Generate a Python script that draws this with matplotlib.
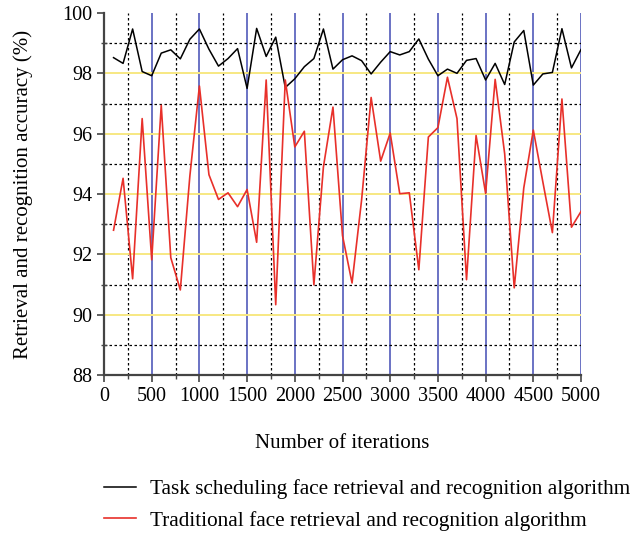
import matplotlib
matplotlib.use("Agg")
import matplotlib.pyplot as plt
from matplotlib.ticker import MultipleLocator

plt.rcParams["font.family"] = ["Liberation Serif", "DejaVu Serif"]

iterations = list(range(100, 5001, 100))

task_scheduling = [
    98.52, 98.33, 99.47, 98.06, 97.92, 98.67, 98.78, 98.48, 99.13, 99.47,
    98.80, 98.24, 98.49, 98.82, 97.50, 99.49, 98.56, 99.20, 97.53, 97.82,
    98.22, 98.49, 99.47, 98.14, 98.45, 98.58, 98.42, 97.98, 98.37, 98.72,
    98.61, 98.72, 99.14, 98.47, 97.92, 98.14, 98.00, 98.43, 98.49, 97.78,
    98.33, 97.63, 99.04, 99.42, 97.61, 97.98, 98.03, 99.48, 98.18, 98.79,
]

traditional = [
    92.80, 94.52, 91.19, 96.50, 91.82, 96.94, 91.89, 90.82, 94.60, 97.58,
    94.64, 93.82, 94.04, 93.58, 94.15, 92.40, 97.78, 90.33, 97.78, 95.56,
    96.08, 90.99, 94.90, 96.88, 92.62, 91.05, 93.80, 97.20, 95.09, 96.02,
    94.01, 94.04, 91.49, 95.89, 96.20, 97.87, 96.50, 91.16, 95.94, 94.02,
    97.80, 95.33, 90.89, 94.20, 96.12, 94.40, 92.72, 97.15, 92.90, 93.42,
]

labels = [
    "Task scheduling face retrieval and recognition algorithm",
    "Traditional face retrieval and recognition algorithm",
]

fig = plt.figure(figsize=(6.42, 5.33), dpi=100)
ax = fig.add_axes([0.162, 0.2964, 0.743, 0.6792])

ax.set_xlim(0, 5000)
ax.set_ylim(88, 100)
ax.xaxis.set_major_locator(MultipleLocator(500))
ax.xaxis.set_minor_locator(MultipleLocator(250))
ax.yaxis.set_major_locator(MultipleLocator(2))
ax.yaxis.set_minor_locator(MultipleLocator(1))

# grid: blue / yellow majors, black dotted minors
for xv in range(500, 5001, 500):
    ax.axvline(xv, color="#6a72c4", lw=1.4, zorder=1)
for xv in range(250, 5000, 500):
    ax.axvline(xv, color="black", lw=0.9, ls=(0, (2, 2)), zorder=1)
for yv in range(90, 100, 2):
    ax.axhline(yv, color="#f7e882", lw=1.4, zorder=1)
for yv in range(89, 100, 2):
    ax.axhline(yv, color="black", lw=0.9, ls=(0, (2, 2)), zorder=1)

ax.plot(iterations, task_scheduling, color="black", lw=1.1, label=labels[0], zorder=3)
ax.plot(iterations, traditional, color="#e8302a", lw=1.2, label=labels[1], zorder=3)

for s in ["top", "right"]:
    ax.spines[s].set_visible(False)
for s in ["left", "bottom"]:
    ax.spines[s].set_color("#444444")
    ax.spines[s].set_linewidth(1.6)

ax.tick_params(axis="both", which="major", direction="out", length=5, width=1.2,
               color="#444444", labelsize=14.5, pad=3.5)
ax.tick_params(axis="x", which="minor", direction="out", length=3, width=1,
               color="#444444")
ax.tick_params(axis="y", which="minor", direction="inout", length=4, width=1,
               color="#444444")

ax.set_xlabel("Number of iterations", fontsize=15, labelpad=20)
ax.set_ylabel("Retrieval and recognition accuracy (%)", fontsize=15, labelpad=21)

fig.legend(loc="upper left", bbox_to_anchor=(0.162, 0.101), frameon=False,
           fontsize=15.3, handlelength=1.5, handletextpad=0.65, labelspacing=0.55,
           borderpad=0, borderaxespad=0)

fig.savefig("out.png", dpi=100)
